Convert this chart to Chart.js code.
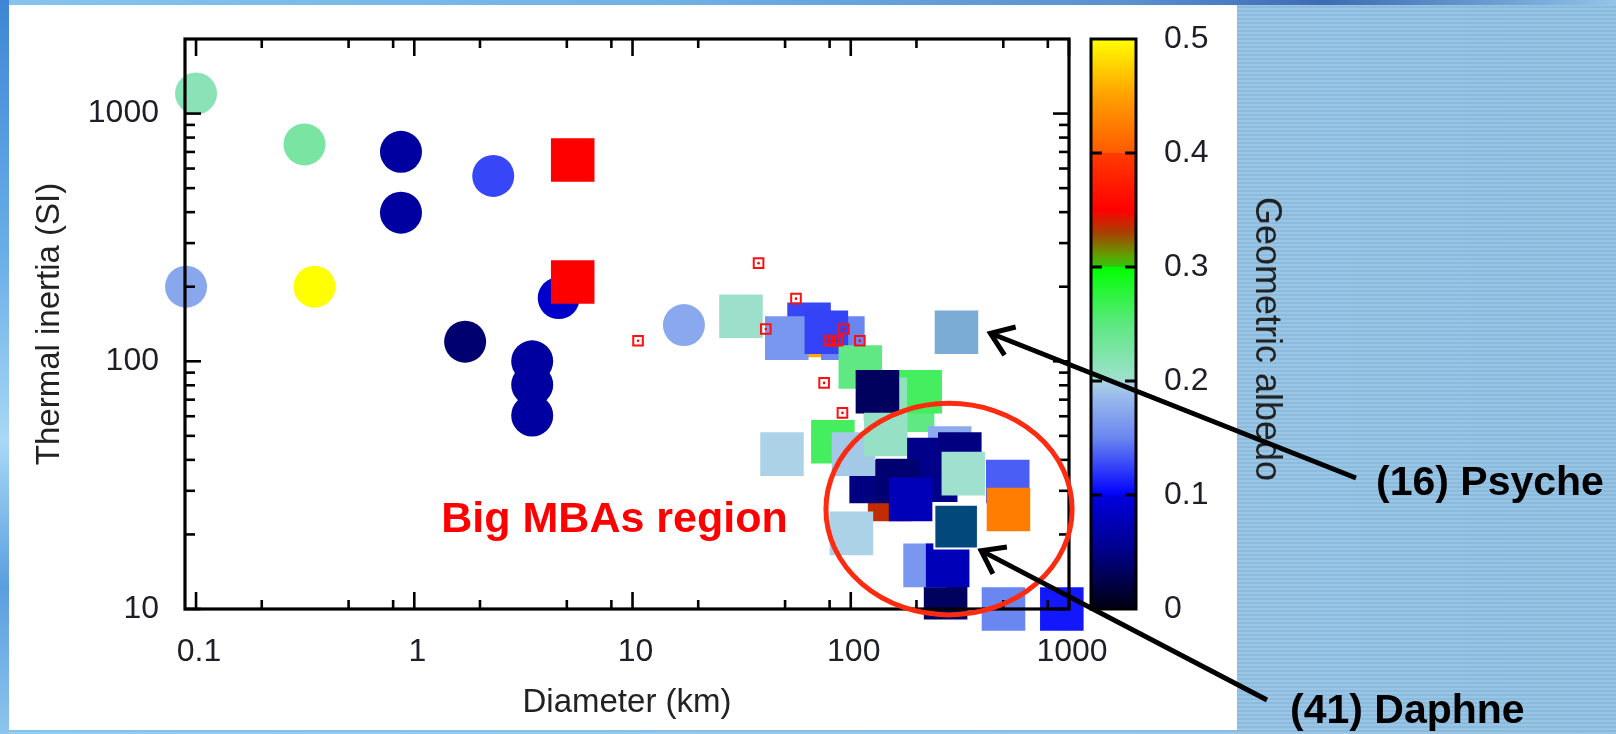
<!DOCTYPE html>
<html>
<head>
<meta charset="utf-8">
<script src="https://cdn.jsdelivr.net/npm/chart.js@4.4.1/dist/chart.umd.min.js"></script>
<style>
  html, body { margin: 0; padding: 0; }
  body {
    width: 1616px; height: 734px; overflow: hidden; position: relative;
    background:
      repeating-linear-gradient(to bottom, rgba(255,255,255,0.08) 0px, rgba(255,255,255,0.08) 2px, rgba(0,40,90,0.04) 2px, rgba(0,40,90,0.04) 4px),
      linear-gradient(to right, #4a8fd8 0px, #8cc8ee 9px, #92c1e3 1240px, #8fbfe1 1616px);
  }
  #topband { position: absolute; left: 0; top: 0; width: 1616px; height: 5px;
    background: linear-gradient(to right, #86c4ee 0%, #70b2e6 40%, #5a8fd0 70%, #3d6bb0 82%, #6a9ad0 92%, #94c4e8 100%); }
  #leftband { position: absolute; left: 0; top: 0; width: 9px; height: 734px;
    background: linear-gradient(to bottom, #3f86d6 0%, #6aaee8 35%, #a8d8f4 60%, #5a9ee0 80%, #8cc4ec 100%); }
  #panel { position: absolute; left: 9px; top: 5px; width: 1228px; height: 725px; background: #fff; }
  #chart { position: absolute; left: 0; top: 0; }
</style>
</head>
<body>
<div id="topband"></div>
<div id="leftband"></div>
<div id="panel"></div>
<canvas id="chart" width="1616" height="734"></canvas>
<script>
const FONT = "'Liberation Sans', Arial, Helvetica, sans-serif";

// NEAs (circles)
const neaDiam    = [0.1, 0.314, 0.869, 0.869, 2.30, 0.09, 0.349, 1.71, 4.59, 3.47, 3.47, 3.47, 17.2];
const neaInertia = [1205, 751, 701, 398, 560, 200, 200, 120, 180, 100, 80.4, 60.4, 140];
const neaAlbedo  = [0.216, 0.228, 0.064, 0.064, 0.126, 0.173, 0.5, 0.04, 0.088, 0.064, 0.064, 0.064, 0.174];

// MBAs and other big squares, in drawing order (later ones on top)
const mbaDiam    = [65.6, 64.4, 50.9, 92, 77.3, 31.4, 5.32, 5.32, 110.6, 192, 208, 144, 132.5,
                    82.8, 48.4, 150.7, 124, 103, 144.7, 284, 228, 245, 316, 164, 188, 328,
                    524, 528, 100.7, 272, 219, 278, 501, 927];
const mbaInertia = [127, 141, 124, 124, 131, 152, 649, 209, 94.8, 63.5, 75.3, 70.3, 75.3,
                    47.3, 42.2, 27.7, 32.7, 42.2, 50.6, 44.7, 40.1, 33.1, 42.2, 33, 27.7, 35.2,
                    32.7, 25.2, 20.2, 11.1, 15, 15, 10, 10];
const mbaAlbedo  = [0.455, 0.126, 0.162, 0.15, 0.125, 0.203, 0.35, 0.35, 0.247, 0.247, 0.263, 0.212, 0.033,
                    0.263, 0.199, 0.336, 0.047, 0.194, 0.207, 0.176, 0.05, 0.05, 0.047, 0.04, 0.077, 0.201,
                    0.135, 0.425, 0.199, 0.033, 0.162, 0.077, 0.15, 0.109];

// highlighted asteroids
const psyche = { name: '(16) Psyche', diam: 305, inertia: 131 };
const daphne = { name: '(41) Daphne', diam: 304, inertia: 21.5 };

// small open red boxes
const boxDiam    = [37.8, 56.1, 40.8, 10.6, 93.1, 110, 80.2, 83.5, 87.0, 75.5, 91.6];
const boxInertia = [249, 179, 135, 121, 135, 121, 121, 121, 121, 81.8, 61.9];

// axes
const xMajor = [0.1, 1, 10, 100, 1000];
const yMajor = [10, 100, 1000];
const xMinorMult = [2, 5, 8];
const yMinorMult = [2, 3, 4, 5, 6, 7, 8, 9];
const albedoTicks = [0.1, 0.2, 0.3, 0.4];

// colour map of the albedo bar
const cmap = [
  [0.00, '#000010'], [0.05, '#000088'], [0.0999, '#0000e0'], [0.10, '#0000ff'],
  [0.15, '#6a86f0'], [0.185, '#98b8ec'], [0.1999, '#acd4e6'], [0.20, '#a0e0d0'],
  [0.25, '#5ce880'], [0.2999, '#00ff00'], [0.30, '#30c810'], [0.31, '#60a000'],
  [0.33, '#a84000'], [0.35, '#ff0000'], [0.3999, '#ff3c00'], [0.40, '#ff5a00'],
  [0.45, '#ffa000'], [0.50, '#ffff00']
];

// region annotation (data coords; half sizes in decades)
const region = { diam: 282, inertia: 25.3, halfDecX: 0.564, halfDecY: 0.427 };
const regionLabel = { text: 'Big MBAs region', diam: 1.33, inertia: 20.4 };

function hex(c) { return [1, 3, 5].map(i => parseInt(c.slice(i, i + 2), 16)); }
function albedoColor(v) {
  for (let i = 1; i < cmap.length; i++) {
    if (v <= cmap[i][0]) {
      const [v0, c0] = cmap[i - 1], [v1, c1] = cmap[i];
      const t = (v - v0) / (v1 - v0);
      const a = hex(c0), b = hex(c1);
      return 'rgb(' + a.map((x, k) => Math.round(x + (b[k] - x) * t)).join(',') + ')';
    }
  }
  return cmap[cmap.length - 1][1];
}
const toPts = (xs, ys) => xs.map((d, i) => ({ x: d, y: ys[i] }));

function line(ctx, x0, y0, x1, y1) { ctx.beginPath(); ctx.moveTo(x0, y0); ctx.lineTo(x1, y1); ctx.stroke(); }

function drawColorbar(chart) {
  const { ctx, chartArea: a, scales: { c } } = chart;
  const x0 = a.right + 22, w = 45;
  const yTop = c.getPixelForValue(0.5), yBot = c.getPixelForValue(0);
  const g = ctx.createLinearGradient(0, yBot, 0, yTop);
  cmap.forEach(([v, col]) => g.addColorStop(v / 0.5, col));
  ctx.save();
  ctx.fillStyle = g;
  ctx.fillRect(x0, yTop, w, yBot - yTop);
  ctx.strokeStyle = '#000';
  ctx.lineWidth = 3;
  albedoTicks.forEach(v => {
    const py = c.getPixelForValue(v);
    line(ctx, x0, py, x0 + 11, py);
    line(ctx, x0 + w - 11, py, x0 + w, py);
  });
  ctx.strokeRect(x0, yTop, w, yBot - yTop);
  ctx.restore();
}

function drawFrame(chart) {
  const { ctx, chartArea: a, scales: { x, y } } = chart;
  ctx.save();
  ctx.strokeStyle = '#000';
  ctx.lineWidth = 2.6;
  const xt = (v, len) => { const p = x.getPixelForValue(v); line(ctx, p, a.bottom, p, a.bottom - len); line(ctx, p, a.top, p, a.top + len); };
  const yt = (v, len) => { const p = y.getPixelForValue(v); line(ctx, a.left, p, a.left + len, p); line(ctx, a.right, p, a.right - len, p); };
  xMajor.forEach(v => xt(v, 17));
  [0.01, 0.1, 1, 10, 100].forEach(d => xMinorMult.forEach(m => { const v = d * m; if (v > x.min && v < x.max) xt(v, 9); }));
  yMajor.forEach(v => yt(v, 16));
  [10, 100, 1000].forEach(d => yMinorMult.forEach(m => { const v = d * m; if (v > y.min && v < y.max) yt(v, 10); }));
  ctx.lineWidth = 3.2;
  ctx.strokeRect(a.left, a.top, a.right - a.left, a.bottom - a.top);
  ctx.restore();
}

function arrow(ctx, x0, y0, x1, y1) {
  const ang = Math.atan2(y1 - y0, x1 - x0), L = 26, s = 0.62;
  line(ctx, x0, y0, x1, y1);
  ctx.beginPath();
  ctx.moveTo(x1 - L * Math.cos(ang - s), y1 - L * Math.sin(ang - s));
  ctx.lineTo(x1, y1);
  ctx.lineTo(x1 - L * Math.cos(ang + s), y1 - L * Math.sin(ang + s));
  ctx.stroke();
}

function drawNotes(chart) {
  const { ctx, scales: { x, y } } = chart;
  ctx.save();
  // ellipse round the big MBAs
  const cx = x.getPixelForValue(region.diam), cy = y.getPixelForValue(region.inertia);
  const rx = (x.getPixelForValue(region.diam * 10 ** region.halfDecX) - x.getPixelForValue(region.diam / 10 ** region.halfDecX)) / 2;
  const ry = (y.getPixelForValue(region.inertia / 10 ** region.halfDecY) - y.getPixelForValue(region.inertia * 10 ** region.halfDecY)) / 2;
  ctx.strokeStyle = '#ff2b10';
  ctx.lineWidth = 5;
  ctx.beginPath();
  ctx.ellipse(cx, cy, rx, ry, 0, 0, Math.PI * 2);
  ctx.stroke();

  ctx.fillStyle = '#ff0000';
  ctx.font = 'bold 43px ' + FONT;
  ctx.textBaseline = 'alphabetic';
  ctx.fillText(regionLabel.text, x.getPixelForValue(regionLabel.diam), y.getPixelForValue(regionLabel.inertia));

  // arrows and names
  ctx.strokeStyle = '#000';
  ctx.lineWidth = 5;
  ctx.lineJoin = 'miter';
  const px = x.getPixelForValue(psyche.diam), py = y.getPixelForValue(psyche.inertia);
  arrow(ctx, 1356, 478, px + 34, py + 1);
  const dx = x.getPixelForValue(daphne.diam), dy = y.getPixelForValue(daphne.inertia);
  arrow(ctx, 1267, 700, dx + 25, dy + 24);

  ctx.fillStyle = '#000';
  ctx.font = 'bold 41px ' + FONT;
  ctx.fillText(psyche.name, 1376, 495);
  ctx.fillText(daphne.name, 1290, 723);
  ctx.restore();
}

const decor = {
  id: 'decor',
  beforeDatasetsDraw(chart) { drawColorbar(chart); },
  afterDatasetsDraw(chart) { drawFrame(chart); drawNotes(chart); }
};

// fixed axis boxes; drop the label overhang so the plot frame lands where it should
const fixSize = (w, h) => s => {
  if (w) s.width = w;
  if (h) s.height = h;
  s.paddingTop = s.paddingBottom = s.paddingLeft = s.paddingRight = 0;
};

const tickFont = { family: FONT, size: 32 };
const titleFont = { family: FONT, size: 33 };

new Chart(document.getElementById('chart'), {
  type: 'scatter',
  data: {
    datasets: [
      { label: 'box dots', data: toPts(boxDiam, boxInertia), order: 0, clip: false,
        pointStyle: 'circle', pointRadius: 1.3, pointBorderWidth: 0, pointBackgroundColor: '#ff0000' },
      { label: 'boxes', data: toPts(boxDiam, boxInertia), order: 1, clip: false,
        pointStyle: 'rect', pointRadius: 6.8, pointBorderWidth: 2, pointBorderColor: '#ff1010', pointBackgroundColor: 'rgba(0,0,0,0)' },
      { label: 'Daphne', data: [{ x: daphne.diam, y: daphne.inertia }], order: 2, clip: false,
        pointStyle: 'rect', pointRadius: 30.8, pointBorderWidth: 2, pointBorderColor: '#ffffff', pointBackgroundColor: '#02487a' },
      { label: 'Psyche', data: [{ x: psyche.diam, y: psyche.inertia }], order: 3, clip: false,
        pointStyle: 'rect', pointRadius: 30.8, pointBorderWidth: 0, pointBackgroundColor: '#7aacd6' },
      { label: 'MBAs', data: toPts(mbaDiam, mbaInertia), order: 4, clip: false,
        pointStyle: 'rect', pointRadius: 30.8, pointBorderWidth: 0, pointBackgroundColor: mbaAlbedo.map(albedoColor) },
      { label: 'NEAs', data: toPts(neaDiam, neaInertia), order: 5, clip: false,
        pointStyle: 'circle', pointRadius: 21, pointBorderWidth: 0, pointBackgroundColor: neaAlbedo.map(albedoColor) }
    ]
  },
  options: {
    responsive: false,
    animation: false,
    events: [],
    layout: { padding: { left: 0, top: 39, right: 317, bottom: 0 } },
    plugins: { legend: { display: false }, tooltip: { enabled: false } },
    scales: {
      x: {
        type: 'logarithmic', position: 'bottom', min: 0.089, max: 1000,
        afterFit: fixSize(0, 125),
        afterBuildTicks: s => { s.ticks = xMajor.map(v => ({ value: v })); },
        grid: { display: false, drawTicks: false }, border: { display: false },
        ticks: { font: tickFont, color: '#1e1e28', padding: 24, labelOffset: 3, maxRotation: 0, autoSkip: false, callback: v => String(v) },
        title: { display: true, text: 'Diameter (km)', font: titleFont, color: '#222', padding: { top: 0, bottom: 11 } }
      },
      y: {
        type: 'logarithmic', position: 'left', min: 10, max: 2000,
        afterFit: fixSize(185, 0),
        afterBuildTicks: s => { s.ticks = yMajor.map(v => ({ value: v })); },
        grid: { display: false, drawTicks: false }, border: { display: false },
        ticks: { font: tickFont, color: '#1e1e28', padding: 26, autoSkip: false, callback: v => String(v) },
        title: { display: true, text: 'Thermal inertia (SI)', font: titleFont, color: '#222', padding: { top: 30, bottom: 0 } }
      },
      c: {
        type: 'linear', position: 'right', min: 0, max: 0.5,
        afterFit: fixSize(230, 0),
        grid: { display: false, drawTicks: false }, border: { display: false },
        ticks: { font: tickFont, color: '#1e1e28', padding: 95, stepSize: 0.1, autoSkip: false, callback: v => v === 0 ? '0' : v.toFixed(1) },
        title: { display: true, text: '   Geometric albedo', font: { family: FONT, size: 36 }, color: '#222', padding: { top: 11, bottom: 0 } }
      }
    }
  },
  plugins: [decor]
});
</script>
</body>
</html>
